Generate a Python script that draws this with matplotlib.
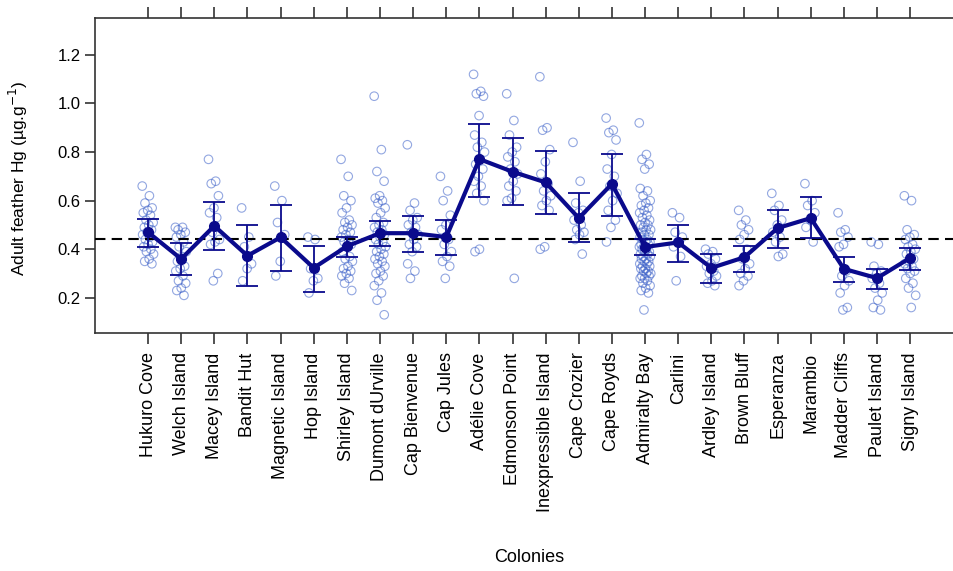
import matplotlib
matplotlib.use('Agg')
from matplotlib import pyplot as plt
import numpy as np

plt.rcParams['font.family'] = ['Liberation Sans', 'DejaVu Sans']

colonies = ['Hukuro Cove', 'Welch Island', 'Macey Island', 'Bandit Hut',
            'Magnetic Island', 'Hop Island', 'Shirley Island', 'Dumont dUrville',
            'Cap Bienvenue', 'Cap Jules', 'Adélie Cove', 'Edmonson Point',
            'Inexpressible Island', 'Cape Crozier', 'Cape Royds', 'Admiralty Bay',
            'Carlini', 'Ardley Island', 'Brown Bluff', 'Esperanza', 'Marambio',
            'Madder Cliffs', 'Paulet Island', 'Signy Island']

# colony means and error bar limits
means = [0.470, 0.360, 0.496, 0.373, 0.449, 0.323, 0.412, 0.466,
         0.466, 0.450, 0.771, 0.719, 0.675, 0.528, 0.669, 0.409,
         0.428, 0.323, 0.367, 0.487, 0.528, 0.319, 0.281, 0.364]
upper = [0.525, 0.427, 0.595, 0.499, 0.584, 0.414, 0.450, 0.515,
         0.535, 0.521, 0.914, 0.857, 0.804, 0.630, 0.794, 0.442,
         0.499, 0.382, 0.414, 0.562, 0.614, 0.367, 0.319, 0.405]
lower = [0.409, 0.294, 0.395, 0.248, 0.309, 0.225, 0.368, 0.414,
         0.390, 0.378, 0.617, 0.580, 0.544, 0.428, 0.536, 0.378,
         0.348, 0.261, 0.305, 0.405, 0.446, 0.267, 0.237, 0.316]

overall_mean = 0.442

# individual bird values per colony
birds = [
    [0.66, 0.62, 0.59, 0.57, 0.56, 0.55, 0.54, 0.52, 0.51, 0.50, 0.49, 0.48, 0.47,
     0.46, 0.45, 0.44, 0.43, 0.42, 0.41, 0.40, 0.39, 0.38, 0.36, 0.35, 0.34],
    [0.49, 0.49, 0.48, 0.47, 0.46, 0.45, 0.43, 0.41, 0.39, 0.37, 0.35, 0.33, 0.32,
     0.31, 0.29, 0.27, 0.26, 0.24, 0.23, 0.21],
    [0.77, 0.68, 0.67, 0.62, 0.57, 0.55, 0.53, 0.47, 0.44, 0.43, 0.42, 0.30, 0.27],
    [0.57, 0.45, 0.41, 0.34, 0.32, 0.27],
    [0.66, 0.60, 0.51, 0.46, 0.35, 0.29],
    [0.45, 0.44, 0.32, 0.28, 0.27, 0.22],
    [0.77, 0.70, 0.62, 0.60, 0.57, 0.55, 0.52, 0.51, 0.50, 0.49, 0.48, 0.47, 0.46,
     0.45, 0.44, 0.43, 0.42, 0.41, 0.39, 0.37, 0.36, 0.35, 0.33, 0.32, 0.31, 0.30,
     0.29, 0.28, 0.26, 0.23],
    [1.03, 0.81, 0.72, 0.68, 0.62, 0.61, 0.60, 0.59, 0.57, 0.55, 0.53, 0.51, 0.50,
     0.49, 0.48, 0.47, 0.46, 0.45, 0.44, 0.43, 0.42, 0.41, 0.40, 0.39, 0.38, 0.37,
     0.36, 0.35, 0.34, 0.33, 0.31, 0.30, 0.29, 0.27, 0.25, 0.22, 0.19, 0.13],
    [0.83, 0.59, 0.56, 0.53, 0.52, 0.50, 0.49, 0.47, 0.46, 0.44, 0.42, 0.41, 0.39,
     0.34, 0.31, 0.28],
    [0.70, 0.64, 0.60, 0.54, 0.50, 0.48, 0.44, 0.42, 0.39, 0.37, 0.35, 0.33, 0.28],
    [1.12, 1.05, 1.04, 1.03, 0.95, 0.87, 0.84, 0.82, 0.80, 0.77, 0.75, 0.73, 0.70,
     0.68, 0.66, 0.63, 0.60, 0.40, 0.39],
    [1.04, 0.93, 0.87, 0.82, 0.80, 0.78, 0.76, 0.73, 0.71, 0.68, 0.66, 0.64, 0.61,
     0.60, 0.28],
    [1.11, 0.90, 0.89, 0.81, 0.76, 0.71, 0.67, 0.64, 0.62, 0.60, 0.58, 0.56, 0.41, 0.40],
    [0.84, 0.68, 0.59, 0.56, 0.55, 0.52, 0.50, 0.48, 0.47, 0.46, 0.44, 0.38],
    [0.94, 0.89, 0.88, 0.85, 0.79, 0.73, 0.70, 0.66, 0.63, 0.60, 0.56, 0.52, 0.49, 0.43],
    [0.92, 0.79, 0.77, 0.75, 0.73, 0.65, 0.64, 0.62, 0.60, 0.59, 0.58, 0.57, 0.56,
     0.55, 0.54, 0.53, 0.52, 0.51, 0.50, 0.50, 0.49, 0.48, 0.48, 0.47, 0.46, 0.46,
     0.45, 0.44, 0.44, 0.43, 0.43, 0.42, 0.42, 0.41, 0.41, 0.40, 0.40, 0.39, 0.39,
     0.38, 0.38, 0.37, 0.37, 0.36, 0.36, 0.35, 0.35, 0.34, 0.34, 0.33, 0.33, 0.32,
     0.32, 0.31, 0.31, 0.30, 0.30, 0.29, 0.29, 0.28, 0.28, 0.27, 0.26, 0.25, 0.24,
     0.23, 0.22, 0.15],
    [0.55, 0.53, 0.47, 0.45, 0.43, 0.41, 0.37, 0.27],
    [0.40, 0.39, 0.38, 0.36, 0.34, 0.33, 0.31, 0.30, 0.29, 0.27, 0.26, 0.25],
    [0.56, 0.52, 0.50, 0.48, 0.46, 0.44, 0.40, 0.36, 0.34, 0.32, 0.30, 0.29, 0.27, 0.25],
    [0.63, 0.58, 0.56, 0.52, 0.50, 0.47, 0.45, 0.43, 0.38, 0.37],
    [0.67, 0.60, 0.58, 0.55, 0.52, 0.49, 0.43],
    [0.55, 0.48, 0.47, 0.45, 0.42, 0.41, 0.31, 0.29, 0.27, 0.25, 0.22, 0.16, 0.15],
    [0.43, 0.42, 0.33, 0.31, 0.30, 0.28, 0.26, 0.24, 0.22, 0.19, 0.16, 0.15],
    [0.62, 0.60, 0.48, 0.46, 0.45, 0.44, 0.42, 0.41, 0.40, 0.39, 0.38, 0.36, 0.35,
     0.34, 0.33, 0.32, 0.31, 0.30, 0.28, 0.26, 0.24, 0.21, 0.16],
]

navy = '#0a0a8c'
x = np.arange(len(colonies))

fig = plt.figure(figsize=(9.54, 5.71), dpi=100)
ax = fig.add_axes([0.0996, 0.4168, 0.91, 0.5517])

# individual points, spread a little sideways so they don't all overlap
for i, vals in enumerate(birds):
    k = np.arange(len(vals))
    jitter = ((k * 0.618) % 1 - 0.5) * 0.35
    ax.scatter(i + jitter, vals, s=38, facecolors='none',
               edgecolors='#3a5fc8', linewidths=0.8, alpha=0.55, zorder=2)

ax.axhline(overall_mean, color='black', linestyle=(0, (5, 3)), linewidth=1.5, zorder=3)

yerr = [np.array(means) - np.array(lower), np.array(upper) - np.array(means)]
ax.errorbar(x, means, yerr=yerr, fmt='none', ecolor=navy, elinewidth=1.3,
            capsize=8, capthick=1.3, zorder=4)
ax.plot(x, means, color=navy, linewidth=3, marker='o', markersize=7, zorder=5)

ax.set_xlim(-1.6, 24.6)
ax.set_ylim(0.055, 1.352)
ax.set_yticks([0.2, 0.4, 0.6, 0.8, 1.0, 1.2])
ax.set_yticklabels(['0.2', '0.4', '0.6', '0.8', '1.0', '1.2'])
ax.set_xticks(x)
ax.set_xticklabels(colonies, rotation=90)

ax.tick_params(axis='x', direction='out', length=8, width=1.2, color='#333333',
               top=True, labeltop=False, labelsize=13, pad=6)
ax.tick_params(axis='y', direction='out', length=7, width=1.2, color='#333333',
               labelsize=12)
for side in ['left', 'bottom', 'top']:
    ax.spines[side].set_color('#333333')
    ax.spines[side].set_linewidth(1.2)
ax.spines['right'].set_visible(False)

ax.set_ylabel('Adult feather Hg (µg.g$^{-1}$)', fontsize=12.5)
ax.yaxis.set_label_coords(-0.075, 0.49)
ax.set_xlabel('Colonies', fontsize=13)
ax.xaxis.set_label_coords(0.5, -0.686)

plt.savefig('out.png', dpi=100)
